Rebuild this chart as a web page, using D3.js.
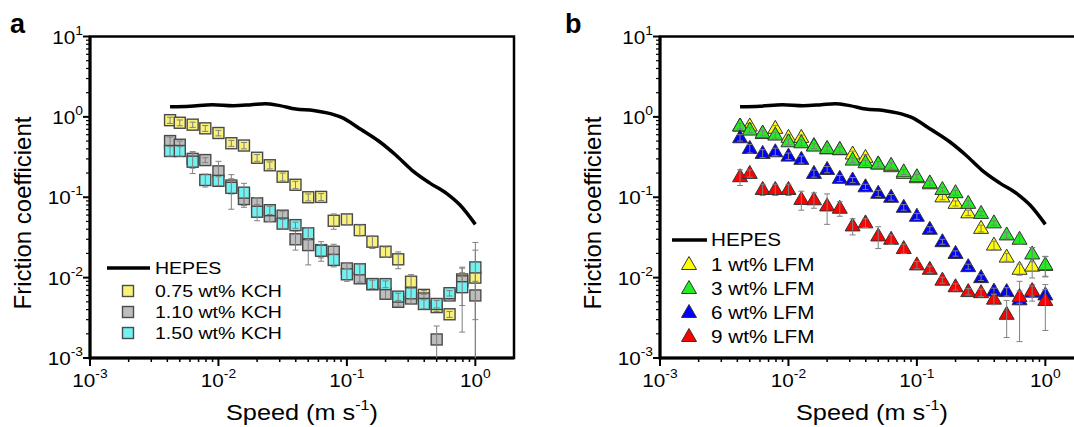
<!DOCTYPE html>
<html>
<head>
<meta charset="utf-8">
<script src="https://cdn.jsdelivr.net/npm/d3@7"></script>
<style>
  body { margin: 0; background: #fff; }
  text { font-family: "Liberation Sans", Arial, sans-serif; fill: #000; }
</style>
</head>
<body>
<div class="chart"></div>
<script>
// speeds (m/s) shared by all measured series
var speed = [0.0042, 0.005, 0.0063, 0.0079, 0.01, 0.0126, 0.0158, 0.02, 0.0251, 0.0316, 0.0398, 0.05, 0.063,
             0.079, 0.1, 0.126, 0.158, 0.2, 0.251, 0.316, 0.398, 0.5, 0.63, 0.79, 1.0];

// HEPES reference curve
var hepesSpeed = [0.0042, 0.006, 0.009, 0.013, 0.018, 0.023, 0.03, 0.04, 0.055, 0.07, 0.09, 0.13, 0.18, 0.24, 0.32, 0.44, 0.6, 0.76, 1.0];
var hepesFric  = [1.34, 1.36, 1.42, 1.38, 1.42, 1.46, 1.38, 1.25, 1.2, 1.12, 0.99, 0.69, 0.49, 0.335, 0.218, 0.151, 0.111, 0.08, 0.046];

// panel a : KCH
var kch075 = [0.91, 0.845, 0.80, 0.72, 0.63, 0.47, 0.44, 0.31, 0.25, 0.18, 0.143, 0.1, 0.101, 0.051, 0.053, 0.039,
              0.028, 0.021, 0.0169, 0.0089, 0.0061, 0.0043, 0.0035, 0.0095, 0.0100];
var kch075Err = [0.08, 0.07, 0.06, 0.06, 0.05, 0.04, 0.04, 0.03, 0.025, 0.02, 0.015, 0.01, 0.01, 0.011, 0.008, 0.006,
                 0.005, 0.003, 0.004, 0.002, 0.0008, 0.0005, 0.0003, 0.002, 0.012];
var kch110 = [0.50, 0.45, 0.30, 0.29, 0.21, 0.14, 0.095, 0.084, 0.058, 0.059, 0.030, 0.0254, 0.022, 0.021, 0.013,
              0.0098, 0.0083, 0.0063, 0.005, 0.0055, 0.0055, 0.0017, 0.006, 0.009, 0.006];
var kch110Err = [0.06, 0.05, 0.07, 0.02, 0.07, 0.03, 0.02, 0.015, 0.008, 0.008, 0.008, 0.011, 0.006, 0.005, 0.002,
                 0.001, 0.001, 0.0008, 0.0006, 0.0008, 0.0007, 0.0008, 0.0008, 0.0045, 0.003];
var kch150 = [0.376, 0.376, 0.277, 0.164, 0.16, 0.131, 0.114, 0.066, 0.069, 0.047, 0.045, 0.0356, 0.0216, 0.0166,
              0.011, 0.0127, 0.0083, 0.0083, 0.0058, 0.0064, 0.0047, 0.0047, 0.0064, 0.0076, 0.0134];
var kch150Err = [0.05, 0.05, 0.08, 0.03, 0.02, 0.06, 0.035, 0.015, 0.008, 0.006, 0.004, 0.006, 0.004, 0.003, 0.002,
                 0.002, 0.001, 0.0008, 0.0006, 0.001, 0.0006, 0.0005, 0.0005, 0.0055, 0.014];

// panel b : LFM
var lfm1 = [0.77, 0.77, 0.62, 0.72, 0.556, 0.556, 0.44, 0.40, 0.39, 0.345, 0.313, 0.26, 0.24, 0.198, 0.175,
            0.147, 0.101, 0.084, 0.064, 0.041, 0.0254, 0.018, 0.0127, 0.0139, 0.0142];
var lfm1Err = [0.06, 0.06, 0.05, 0.06, 0.04, 0.04, 0.03, 0.03, 0.03, 0.03, 0.025, 0.02, 0.02, 0.015, 0.012,
               0.01, 0.008, 0.006, 0.005, 0.004, 0.003, 0.002, 0.002, 0.004, 0.004];
var lfm3 = [0.77, 0.685, 0.63, 0.594, 0.49, 0.476, 0.433, 0.405, 0.394, 0.29, 0.269, 0.259, 0.25, 0.207, 0.18,
            0.151, 0.125, 0.114, 0.084, 0.063, 0.048, 0.034, 0.030, 0.0197, 0.0144];
var lfm3Err = [0.06, 0.05, 0.05, 0.05, 0.04, 0.04, 0.03, 0.03, 0.03, 0.02, 0.02, 0.02, 0.02, 0.015, 0.012,
               0.01, 0.008, 0.008, 0.006, 0.004, 0.003, 0.003, 0.004, 0.004, 0.004];
var lfm6 = [0.55, 0.405, 0.351, 0.368, 0.325, 0.296, 0.198, 0.222, 0.172, 0.164, 0.135, 0.112, 0.10, 0.075, 0.058,
            0.04, 0.028, 0.020, 0.0137, 0.010, 0.0068, 0.0067, 0.0053, 0.0066, 0.0061];
var lfm6Err = [0.05, 0.05, 0.04, 0.04, 0.03, 0.03, 0.02, 0.02, 0.015, 0.012, 0.01, 0.01, 0.008, 0.006, 0.005,
               0.003, 0.002, 0.0015, 0.001, 0.0008, 0.0006, 0.0008, 0.0037, 0.0015, 0.001];
var lfm9 = [0.18, 0.198, 0.125, 0.125, 0.125, 0.094, 0.093, 0.078, 0.073, 0.044, 0.048, 0.033, 0.030, 0.023, 0.0144,
            0.0127, 0.0093, 0.0077, 0.0067, 0.0065, 0.0054, 0.0035, 0.0058, 0.0069, 0.0052];
var lfm9Err = [0.04, 0.02, 0.02, 0.02, 0.02, 0.025, 0.02, 0.032, 0.015, 0.01, 0.006, 0.01, 0.004, 0.003, 0.0015,
               0.0012, 0.0008, 0.0007, 0.0006, 0.0007, 0.0008, 0.0017, 0.001, 0.001, 0.003];

var xTicks = [1e-3, 1e-2, 1e-1, 1];
var xTickExp = ["-3", "-2", "-1", "0"];
var yTicks = [1e-3, 1e-2, 1e-1, 1, 10];
var yTickExp = ["-3", "-2", "-1", "0", "1"];

var SX = 1.15; // text in the source is a bit wide

var svg = d3.select(".chart").append("svg")
    .attr("width", 1074)
    .attr("height", 427);

function stext(g, x, y, size, anchor) {
    return g.append("text")
        .attr("transform", "translate(" + x + "," + y + ") scale(" + SX + ",1)")
        .attr("text-anchor", anchor)
        .style("font-size", size + "px");
}

function drawPanel(p) {
    var x = d3.scaleLog().domain([1e-3, 2]).range([p.left, p.left + 424]);
    var y = d3.scaleLog().domain([1e-3, 10]).range([358, 36.5]);
    var g = svg.append("g");

    // minor + major ticks
    var minorX = [], minorY = [];
    [1e-3, 1e-2, 1e-1].forEach(function (d) {
        for (var k = 2; k <= 9; k++) minorX.push(d * k);
    });
    [1e-3, 1e-2, 1e-1, 1].forEach(function (d) {
        for (var k = 2; k <= 9; k++) minorY.push(d * k);
    });

    g.selectAll(".mx").data(minorX).enter().append("line")
        .attr("x1", x).attr("x2", x).attr("y1", 358).attr("y2", 362)
        .attr("stroke", "#000").attr("stroke-width", 1.5);
    g.selectAll(".Mx").data(xTicks).enter().append("line")
        .attr("x1", x).attr("x2", x).attr("y1", 358).attr("y2", 366)
        .attr("stroke", "#000").attr("stroke-width", 2);
    g.selectAll(".my").data(minorY).enter().append("line")
        .attr("y1", y).attr("y2", y).attr("x1", p.left).attr("x2", p.left - 4)
        .attr("stroke", "#000").attr("stroke-width", 1.2);
    g.selectAll(".My").data(yTicks).enter().append("line")
        .attr("y1", y).attr("y2", y).attr("x1", p.left).attr("x2", p.left - 7)
        .attr("stroke", "#000").attr("stroke-width", 2);

    // frame
    g.append("rect")
        .attr("x", p.left).attr("y", 36.5)
        .attr("width", 424).attr("height", 358 - 36.5)
        .attr("fill", "none").attr("stroke", "#000").attr("stroke-width", 2.5);
    g.append("line").attr("x1", p.left).attr("x2", p.left).attr("y1", 36).attr("y2", 359.5)
        .attr("stroke", "#000").attr("stroke-width", 3);
    g.append("line").attr("x1", p.left - 1).attr("x2", p.left + 424).attr("y1", 358).attr("y2", 358)
        .attr("stroke", "#000").attr("stroke-width", 3);

    // tick labels
    xTicks.forEach(function (d, i) {
        var t = stext(g, x(d), 387, 18, "middle");
        t.append("tspan").text("10");
        t.append("tspan").attr("dy", -9).style("font-size", "12px").text(xTickExp[i]);
    });
    yTicks.forEach(function (d, i) {
        var t = stext(g, p.left - 7, y(d) + 7, 18, "end");
        t.append("tspan").text("10");
        t.append("tspan").attr("dy", -9).style("font-size", "12px").text(yTickExp[i]);
    });

    // axis titles
    g.append("text")
        .attr("transform", "translate(" + (p.left - 59) + ",213) rotate(-90)")
        .attr("text-anchor", "middle")
        .style("font-size", "24px")
        .text("Friction coefficient");
    var xt = stext(g, p.left + 212, 420, 22, "middle");
    xt.append("tspan").text("Speed (m s");
    xt.append("tspan").attr("dy", -10).style("font-size", "14px").text("-1");
    xt.append("tspan").attr("dy", 10).text(")");

    // panel letter
    g.append("text").attr("x", p.letterX).attr("y", 33)
        .style("font-size", "27px").style("font-weight", "bold").text(p.letter);

    // HEPES curve
    var line = d3.line()
        .x(function (d, i) { return x(hepesSpeed[i]); })
        .y(function (d) { return y(d); })
        .curve(d3.curveMonotoneX);
    g.append("path").datum(hepesFric)
        .attr("d", line)
        .attr("fill", "none").attr("stroke", "#000").attr("stroke-width", 3.5);

    // markers
    p.series.forEach(function (s) {
        var sg = g.append("g");
        var pts = s.values.map(function (v, i) { return { x: speed[i], v: v, e: s.err[i] }; });
        var mk = sg.selectAll(".pt").data(pts).enter().append("g")
            .attr("transform", function (d) { return "translate(" + x(d.x) + "," + y(d.v) + ")"; });
        if (p.shape === "square") {
            mk.append("rect").attr("x", -5.5).attr("y", -5.5).attr("width", 11).attr("height", 11)
                .attr("fill", s.color).attr("stroke", "#4a4a4a").attr("stroke-width", 1.4);
        } else {
            mk.append("path").attr("d", "M0,-8L7.5,5L-7.5,5Z")
                .attr("fill", s.color).attr("stroke", "#333").attr("stroke-width", 1);
        }
        // error bars
        var eb = sg.selectAll(".eb").data(pts).enter().append("g")
            .attr("stroke", "#808080").attr("stroke-width", 1);
        eb.append("line")
            .attr("x1", function (d) { return x(d.x); }).attr("x2", function (d) { return x(d.x); })
            .attr("y1", function (d) { return y(d.v + d.e); })
            .attr("y2", function (d) { return y(Math.max(d.v - d.e, 1e-3)); });
        eb.append("line")
            .attr("x1", function (d) { return x(d.x) - 3; }).attr("x2", function (d) { return x(d.x) + 3; })
            .attr("y1", function (d) { return y(d.v + d.e); }).attr("y2", function (d) { return y(d.v + d.e); });
        eb.filter(function (d) { return d.v - d.e > 1e-3; }).append("line")
            .attr("x1", function (d) { return x(d.x) - 3; }).attr("x2", function (d) { return x(d.x) + 3; })
            .attr("y1", function (d) { return y(d.v - d.e); }).attr("y2", function (d) { return y(d.v - d.e); });
    });

    // legend
    var L = p.legend;
    g.append("line").attr("x1", L.lineX1).attr("x2", L.lineX2).attr("y1", L.hepesY).attr("y2", L.hepesY)
        .attr("stroke", "#000").attr("stroke-width", 3.5);
    stext(g, L.textX, L.hepesY + 6, L.size, "start").text("HEPES");
    p.series.forEach(function (s, i) {
        var cy = L.firstY + i * L.step;
        if (p.shape === "square") {
            g.append("rect").attr("x", L.markX - 5.5).attr("y", cy - 5.5).attr("width", 11).attr("height", 11)
                .attr("fill", s.color).attr("stroke", "#4a4a4a").attr("stroke-width", 1.4);
        } else {
            g.append("path").attr("transform", "translate(" + L.markX + "," + cy + ")")
                .attr("d", "M0,-8L7.5,5L-7.5,5Z")
                .attr("fill", s.color).attr("stroke", "#333").attr("stroke-width", 1);
        }
        stext(g, L.textX, cy + 6, L.size, "start").text(s.name);
    });
}

drawPanel({
    left: 90, letter: "a", letterX: 10, shape: "square",
    series: [
        { name: "0.75 wt% KCH", values: kch075, err: kch075Err, color: "#f8f27a" },
        { name: "1.10 wt% KCH", values: kch110, err: kch110Err, color: "#bdbdbd" },
        { name: "1.50 wt% KCH", values: kch150, err: kch150Err, color: "#72f1f1" }
    ],
    legend: { lineX1: 107, lineX2: 150, hepesY: 268, textX: 155, markX: 128, firstY: 291, step: 21, size: 17 }
});

drawPanel({
    left: 660, letter: "b", letterX: 565, shape: "triangle",
    series: [
        { name: "1 wt% LFM", values: lfm1, err: lfm1Err, color: "#ffff00" },
        { name: "3 wt% LFM", values: lfm3, err: lfm3Err, color: "#22ee22" },
        { name: "6 wt% LFM", values: lfm6, err: lfm6Err, color: "#0000ff" },
        { name: "9 wt% LFM", values: lfm9, err: lfm9Err, color: "#ff0000" }
    ],
    legend: { lineX1: 672, lineX2: 707, hepesY: 240, textX: 711, markX: 689, firstY: 264.5, step: 24, size: 18 }
});
</script>
</body>
</html>
